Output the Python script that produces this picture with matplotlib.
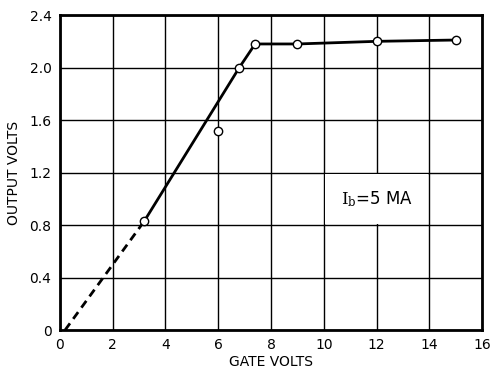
import matplotlib
matplotlib.use("Agg")
import matplotlib.pyplot as plt

# measured points (open circles)
gate_v = [3.2, 6.0, 6.8, 7.4, 9.0, 12.0, 15.0]
out_v = [0.83, 1.52, 2.0, 2.18, 2.18, 2.2, 2.21]

# solid curve through the points (the 6 V point sits off the line)
curve_x = [3.2, 6.8, 7.4, 9.0, 12.0, 15.0]
curve_y = [0.83, 2.0, 2.18, 2.18, 2.2, 2.21]

# dashed extrapolation to the origin
dash_x = [0.2, 3.2]
dash_y = [0.0, 0.83]

x_ticks = [0, 2, 4, 6, 8, 10, 12, 14, 16]
y_ticks = [0, 0.4, 0.8, 1.2, 1.6, 2.0, 2.4]
y_labels = ["0", "0.4", "0.8", "1.2", "1.6", "2.0", "2.4"]

fig = plt.figure(figsize=(4.9, 3.68), dpi=100)
ax = fig.add_axes([0.122, 0.103, 0.862, 0.856])

ax.plot(dash_x, dash_y, color="black", lw=2, ls=(0, (3, 2)))
ax.plot(curve_x, curve_y, color="black", lw=2)
ax.plot(gate_v, out_v, ls="none", marker="o", ms=6, mfc="white",
        mec="black", mew=1, zorder=5)

ax.set_xlim(0, 16)
ax.set_ylim(0, 2.4)
ax.set_xticks(x_ticks)
ax.set_yticks(y_ticks)
ax.set_yticklabels(y_labels)
ax.grid(True, color="black", lw=1)
ax.set_axisbelow(True)
for s in ax.spines.values():
    s.set_linewidth(2)
ax.tick_params(length=0, labelsize=10, pad=6)

ax.set_xlabel("GATE VOLTS", fontsize=10, labelpad=2)
ax.set_ylabel("OUTPUT VOLTS", fontsize=10, labelpad=6)

# annotation, white box hides the x=12 grid line behind it
ax.text(12.0, 1.0, r"$\mathrm{I}_{\mathrm{b}}$" + "=5 MA", fontsize=12,
        math_fontfamily="dejavuserif", ha="center", va="center",
        bbox=dict(facecolor="white", edgecolor="none", pad=11))

fig.savefig("out.png", dpi=100)
